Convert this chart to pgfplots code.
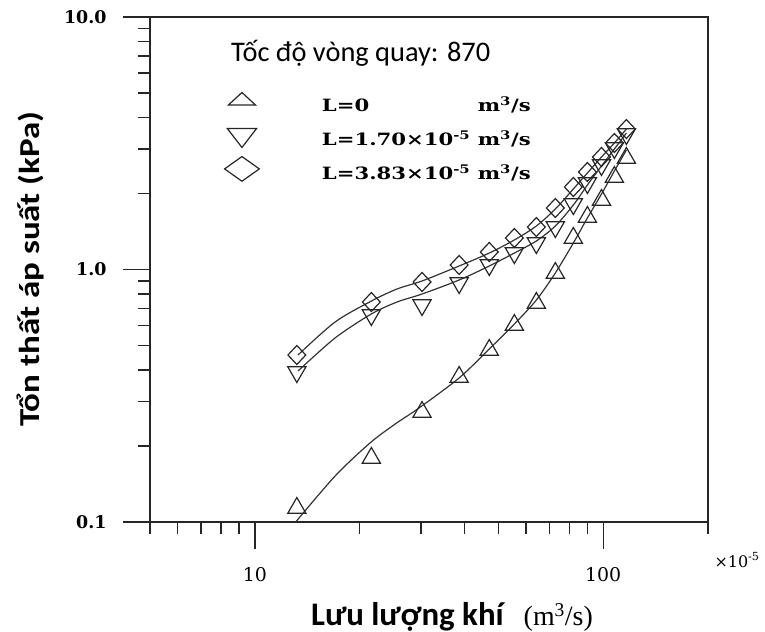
\documentclass[border=0pt]{standalone}
\usepackage{pgfplots}
\pgfplotsset{compat=1.18}
\usepackage{pgfplotstable}
\usepackage{calc}
\usepackage{graphicx}
\usepackage{fontspec}
\setmainfont{DejaVu Serif}
\newfontfamily\cali{Carlito}
\newfontfamily\tms{Liberation Serif}

% marker data (x in 1e-5 m3/s, y in kPa)
\pgfplotstableread{
x y
13.2 0.1136
21.6 0.1793
30.2 0.2727
38.6 0.3752
47.1 0.4799
55.6 0.6028
64.3 0.7367
72.9 0.9685
82.1 1.333
90.1 1.614
98.9 1.885
107.7 2.324
116.6 2.764
}\dataA
\pgfplotstableread{
x y
13.2 0.3926
21.6 0.6604
30.2 0.7234
38.6 0.8841
47.1 1.042
55.6 1.162
64.3 1.273
72.9 1.473
82.1 1.817
90.1 2.201
98.9 2.594
107.7 3.029
116.6 3.440
}\dataB
\pgfplotstableread{
x y
13.2 0.4585
21.6 0.7434
30.2 0.8923
38.6 1.042
47.1 1.173
55.6 1.333
64.3 1.473
72.9 1.752
82.1 2.122
90.1 2.433
98.9 2.790
107.7 3.170
116.6 3.600
}\dataC
% fitted curves
\pgfplotstableread{
x y
13.1 0.100
17.0 0.1521
21.4 0.2055
25.3 0.2445
29.6 0.2828
38.6 0.372
47.1 0.4843
55.6 0.6083
64.3 0.7570
72.9 0.9685
82.1 1.273
90.1 1.600
98.9 1.991
107.7 2.455
116.6 2.973
}\fitA
\pgfplotstableread{
x y
13.3 0.3963
17.0 0.5356
21.6 0.6666
25.6 0.7434
30.2 0.7998
38.6 0.9087
47.1 1.0325
55.6 1.162
64.3 1.297
72.9 1.487
82.1 1.800
90.1 2.161
98.9 2.570
107.7 3.001
116.6 3.472
}\fitB
\pgfplotstableread{
x y
13.3 0.4585
17.0 0.6197
21.6 0.7500
25.6 0.8374
30.2 0.9006
38.6 1.0325
47.1 1.162
55.6 1.309
64.3 1.487
72.9 1.736
82.1 2.084
90.1 2.411
98.9 2.790
107.7 3.170
116.6 3.600
}\fitC

\pgfplotsset{
  legA/.style={legend image code/.code={\path[draw=none,fill=none] (-22bp,-17bp) rectangle (22bp,17bp);
    \draw[##1, every mark/.append style={xscale=1.5,yscale=0.8}] plot coordinates {(0bp,4bp)};}},
  legB/.style={legend image code/.code={\path[draw=none,fill=none] (-22bp,-17bp) rectangle (22bp,17bp);
    \draw[##1, every mark/.append style={xscale=1.6,yscale=1.2}] plot coordinates {(0bp,4bp)};}},
  legC/.style={legend image code/.code={\path[draw=none,fill=none] (-22bp,-17bp) rectangle (22bp,17bp);
    \draw[##1, every mark/.append style={xscale=1.95,yscale=1.3}] plot coordinates {(0bp,4bp)};}},
}

\newcommand\lgent[2]{\scalebox{1.25}[1]{\makebox[\widthof{L=1.70×10\textsuperscript{-5}\ }][l]{#1}#2}}

\begin{document}
\begin{tikzpicture}
\begin{loglogaxis}[
  width=558bp, height=505bp, scale only axis, clip=false,
  xmin=5, xmax=200, ymin=0.1, ymax=10,
  axis line style={black!85, line width=1.3bp},
  tick align=outside, xtick pos=left, ytick pos=left,
  xtick={10,100}, xticklabels={10,100},
  ytick={0.1,1,10}, yticklabels={0.1,1.0,10.0},
  minor xtick={5,6,7,8,9,20,30,40,50,60,70,80,90,200},
  minor ytick={0.2,0.3,0.4,0.5,0.6,0.7,0.8,0.9,2,3,4,5,6,7,8,9},
  major tick length=27bp, minor tick length=12bp,
  every tick/.append style={black!85, line width=1.3bp},
  xticklabel style={font=\fontsize{19}{20}\selectfont, yshift=-15bp},
  yticklabel style={font=\fontsize{17.5}{18}\selectfont\bfseries, xshift=-13bp},
  legend cell align=left,
  legend style={at={(rel axis cs:0.125,0.86)}, anchor=north west,
    draw=none, fill=none, inner sep=0pt, row sep=0pt, column sep=56bp,
    font=\fontsize{17}{20}\selectfont\bfseries},
]
\addplot[black!80, line width=1.2bp, smooth, tension=0.5, forget plot] table {\fitA};
\addplot[black!80, line width=1.2bp, smooth, tension=0.5, forget plot] table {\fitB};
\addplot[black!80, line width=1.2bp, smooth, tension=0.5, forget plot] table {\fitC};

\addplot[only marks, mark=triangle, mark size=10.5bp, black!85,
  mark options={line width=1.2bp}, legA]
  table {\dataA};
\addlegendentry{\lgent{L=0}{m\textsuperscript{3}/s}}
\addplot[only marks, mark=triangle, mark size=10.5bp, black!85,
  mark options={line width=1.2bp, rotate=180}, legB]
  table {\dataB};
\addlegendentry{\lgent{L=1.70×10\textsuperscript{-5}}{m\textsuperscript{3}/s}}
\addplot[only marks, mark=diamond, mark size=9.5bp, black!85,
  mark options={line width=1.2bp, xscale=1.25}, legC]
  table {\dataC};
\addlegendentry{\lgent{L=3.83×10\textsuperscript{-5}}{m\textsuperscript{3}/s}}

\node[anchor=base west, font=\cali\fontsize{28.5}{30}\selectfont, inner sep=0pt]
  at (rel axis cs:0.1452,0.9109) {Tốc độ vòng quay: 870};
\node[anchor=center, font=\fontsize{16}{18}\selectfont, inner sep=0pt]
  at (rel axis cs:1.052,-0.0752) {×10\textsuperscript{-5}};
\node[anchor=base, inner sep=0pt]
  at (rel axis cs:0.5412,-0.204) {{\cali\bfseries\fontsize{33}{36}\selectfont Lưu lượng khí}\hspace{20bp}{\tms\fontsize{28}{30}\selectfont (m\textsuperscript{3}/s)}};
\node[anchor=base, rotate=90, inner sep=0pt]
  at (rel axis cs:-0.1989,0.501) {\scalebox{1.21}[1]{\cali\bfseries\fontsize{29}{32}\selectfont Tổn thất áp suất (kPa)}};

\coordinate (BL) at (rel axis cs:-0.26882,-0.21782);
\coordinate (TR) at (rel axis cs:1.10215,1.03366);
\end{loglogaxis}
\pgfresetboundingbox
\useasboundingbox (BL) rectangle (TR);
\end{tikzpicture}
\end{document}
